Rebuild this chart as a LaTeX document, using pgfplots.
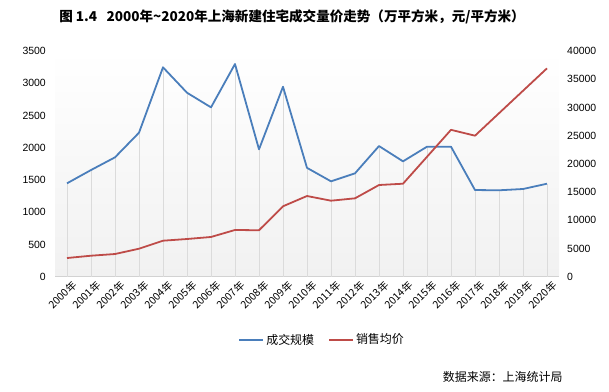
\documentclass[border=0pt]{standalone}
\usepackage{fontspec}
\setmainfont{Liberation Sans}
\newfontfamily\cjk{Noto Sans CJK SC}
\usepackage{pgfplots}
\usepackage{pgfplotstable}
\pgfplotsset{compat=1.18}
\definecolor{blueS}{HTML}{4A7EBB}
\definecolor{redS}{HTML}{BE4B48}

\pgfplotstableread{
x vol price
0 1448 3310
1 1654 3720
2 1851 4020
3 2233 4960
4 3247 6380
5 2853 6680
6 2626 7040
7 3298 8280
8 1975 8230
9 2946 12480
10 1688 14300
11 1479 13470
12 1603 13890
13 2026 16250
14 1789 16480
15 2016 21250
16 2016 26030
17 1344 24990
18 1340 28970
19 1360 32950
20 1442 36930
}\datatable

\begin{document}
\begin{tikzpicture}
\path[use as bounding box] (0bp,0bp) rectangle (609bp,392bp);
\node[font=\cjk\bfseries\fontsize{13.6}{15}\selectfont] at (292bp,375bp) {图 1.4\ \ \ 2000年\textasciitilde2020年上海新建住宅成交量价走势（万平方米，元/平方米）};
\node[font=\cjk\fontsize{12}{14}\selectfont, anchor=east] at (566bp,15bp) {数据来源：上海统计局};

\begin{axis}[
  at={(55bp,115.3bp)}, anchor=south west, scale only axis,
  width=504bp, height=225.7bp,
  xmin=-0.5, xmax=20.5, ymin=0, ymax=3500,
  ytick={0,500,...,3500},
  axis y line*=left, axis x line*=bottom,
  x axis line style={draw=gray!35, line width=0.8pt, -},
  y axis line style={draw=none},
  major tick length=0,
  xtick={0,...,20},
  xticklabels={2000年,2001年,2002年,2003年,2004年,2005年,2006年,2007年,2008年,2009年,2010年,2011年,2012年,2013年,2014年,2015年,2016年,2017年,2018年,2019年,2020年},
  xticklabel style={font=\cjk\fontsize{10.5}{12}\selectfont, rotate=45, anchor=north east, inner sep=1bp, xshift=2bp, yshift=-4bp},
  yticklabel style={font=\fontsize{10.5}{12}\selectfont, inner sep=0pt, xshift=-9bp},
  /pgf/number format/assume math mode=true,
  /pgf/number format/1000 sep={},
  axis background/.style={top color=white, bottom color=gray!11},
  clip=false,
]
\addplot[ycomb, draw=gray!28, line width=0.8pt, forget plot] table[x=x, y=vol] {\datatable};
\addplot[blueS, line width=1.8pt, line join=round, no markers, forget plot] table[x=x, y=vol] {\datatable};
\end{axis}

\begin{axis}[
  at={(55bp,115.3bp)}, anchor=south west, scale only axis,
  width=504bp, height=225.7bp,
  xmin=-0.5, xmax=20.5, ymin=0, ymax=40000,
  ytick={0,5000,...,40000},
  axis y line*=right, axis x line=none,
  y axis line style={draw=none},
  major tick length=0,
  yticklabel style={font=\fontsize{10.5}{12}\selectfont, inner sep=0pt, xshift=8bp},
  /pgf/number format/assume math mode=true,
  /pgf/number format/1000 sep={},
  scaled y ticks=false,
  clip=false,
  legend style={at={(0.53,-0.279)}, anchor=center, draw=none, fill=none,
    font=\cjk\fontsize{12}{14}\selectfont, legend columns=2,
    /tikz/every even column/.append style={column sep=12bp}},
  legend image code/.code={\draw[#1, line width=1.8pt] (0,0) -- (0.85cm,0);},
]
\addlegendimage{blueS}
\addlegendentry{成交规模}
\addplot[redS, line width=1.8pt, line join=round, no markers] table[x=x, y=price] {\datatable};
\addlegendentry{销售均价}
\end{axis}
\end{tikzpicture}
\end{document}
